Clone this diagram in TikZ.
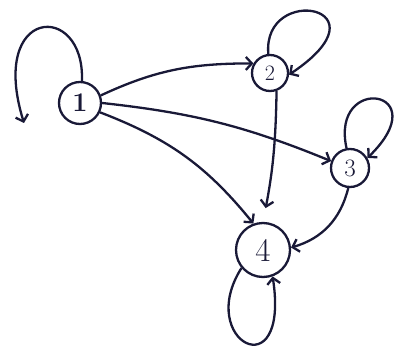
\documentclass[tikz,border=0pt]{standalone}
\usetikzlibrary{arrows.meta}
\definecolor{ink}{RGB}{25,25,55}
\begin{document}
\begin{tikzpicture}[x=1pt, y=1pt, line width=2.3pt, color=ink,
  >={Straight Barb[length=6pt, width=13pt]},
  state/.style={circle, draw, inner sep=0pt},
  arc/.style={->, line width=2.3pt}]
\useasboundingbox (0,0) rectangle (395,351);
\node[state, minimum size=42pt, font=\fontsize{27}{30}\selectfont] (n1) at (80,248){\textbf{1}};
\node[state, minimum size=36pt, font=\fontsize{22}{24}\selectfont] (n2) at (270,278){2};
\node[state, minimum size=38pt, font=\fontsize{25}{27}\selectfont] (n3) at (350,183){3};
\node[state, minimum size=54pt, font=\fontsize{33}{35}\selectfont] (n4) at (263,101){4};
\coordinate (l1) at (24,228);
% self loops
\draw[arc] (n1.85) .. controls (85,350) and (-12,345) .. (l1);
\draw[arc] (n2.95) .. controls (262,368) and (392,345) .. (n2.-5);
\draw[arc] (n3.100) .. controls (330,278) and (438,262) .. (n3.30);
\draw[arc] (n4.220) .. controls (195,10) and (290,-40) .. (n4.-70);
% edges
\draw[arc] (n1.20) to[out=25, in=180] (n2.150);
\draw[arc] (n1.east) to[bend left=8] (n3.160);
\draw[arc] (n1.-25) to[bend left=15] (n4.110);
\draw[arc, shorten >=14pt] (n2.-70) to[bend left=5] (n4.north);
\draw[arc] (n3.-95) to[bend left=30] (n4.5);
\end{tikzpicture}
\end{document}
